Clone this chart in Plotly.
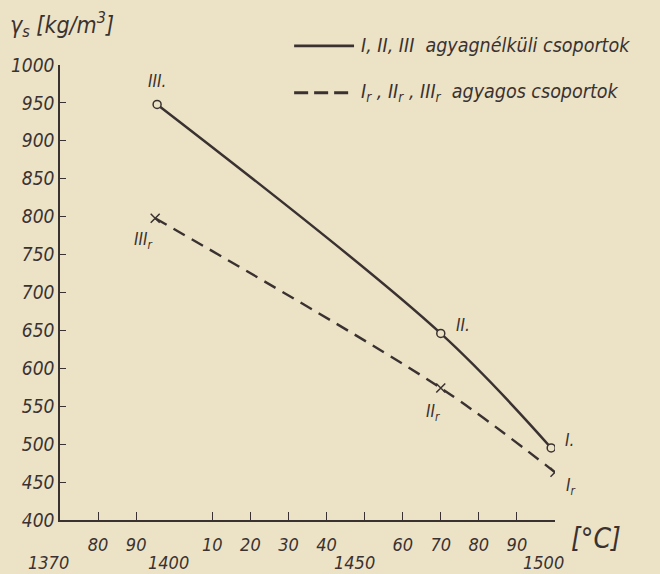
import plotly.graph_objects as go

# Data
temp_solid = [1395.5, 1470, 1499]
dens_solid = [948, 646, 495]
labels_solid = ["III.", "II.", "I."]

temp_dashed = [1395, 1470, 1500]
dens_dashed = [798, 574, 463]
labels_dashed = ["III<sub>r</sub>", "II<sub>r</sub>", "I<sub>r</sub>"]

x_tickvals = [1380, 1390, 1410, 1420, 1430, 1440, 1450, 1460, 1470, 1480, 1490, 1500]
x_ticktext = ["80", "90", "10", "20", "30", "40", "", "60", "70", "80", "90", ""]
x_major_vals = [1370, 1400, 1450, 1500]
x_major_text = ["1370", "1400", "1450", "1500"]
y_tickvals = [400, 450, 500, 550, 600, 650, 700, 750, 800, 850, 900, 950, 1000]

BG = "#ece2c6"
INK = "#3a3231"
FONT = "DejaVu Sans Condensed, Liberation Sans Narrow, Lato, sans-serif"

fig = go.Figure()

fig.add_trace(go.Scatter(
    x=temp_solid, y=dens_solid, mode="lines",
    line=dict(color=INK, width=2.5, shape="spline", smoothing=1.0),
    showlegend=False, hoverinfo="skip"))
fig.add_trace(go.Scatter(
    x=temp_solid, y=dens_solid, mode="markers",
    marker=dict(symbol="circle", size=8, color=BG, line=dict(color=INK, width=1.5)),
    showlegend=False))
fig.add_trace(go.Scatter(
    x=temp_dashed, y=dens_dashed, mode="lines",
    line=dict(color=INK, width=2.4, dash="13px,8px", shape="spline", smoothing=0.9),
    showlegend=False, hoverinfo="skip"))
fig.add_trace(go.Scatter(
    x=temp_dashed, y=dens_dashed, mode="markers",
    marker=dict(symbol="x-thin", size=9, color=INK, line=dict(color=INK, width=1.5)),
    showlegend=False))

# Point labels
offs_solid = [(0, 23), (22, 8), (18, 8)]
for x, y, t, (dx, dy) in zip(temp_solid, dens_solid, labels_solid, offs_solid):
    fig.add_annotation(x=x, y=y, text=t, showarrow=False, xshift=dx, yshift=dy,
                       font=dict(family=FONT, size=17, color=INK, style="italic"))
offs_dashed = [(-12, -22), (-8, -24), (16, -14)]
for x, y, t, (dx, dy) in zip(temp_dashed, dens_dashed, labels_dashed, offs_dashed):
    fig.add_annotation(x=x, y=y, text=t, showarrow=False, xshift=dx, yshift=dy,
                       font=dict(family=FONT, size=17, color=INK, style="italic"))

# Secondary (full year) x labels
major_shift = [-12, -6, -10, -12]
for v, t, s in zip(x_major_vals, x_major_text, major_shift):
    fig.add_annotation(x=v, y=0, yref="paper", text=t, showarrow=False,
                       yanchor="top", yshift=-30, xshift=s,
                       font=dict(family=FONT, size=18, color=INK, style="italic"))

# Unit label
fig.add_annotation(x=1, xref="paper", y=0, yref="paper", text="[°C]", showarrow=False,
                   xanchor="left", yanchor="top", xshift=14, yshift=0,
                   font=dict(family=FONT, size=28, color=INK, style="italic"))
# Y label
fig.add_annotation(x=0, xref="paper", y=1, yref="paper",
                   text="γ<sub>s</sub> [kg/m<sup>3</sup>]", showarrow=False,
                   xanchor="left", yanchor="bottom", xshift=-52, yshift=22,
                   font=dict(family=FONT, size=23, color=INK, style="italic"))

# Manual legend
fig.add_shape(type="line", xref="paper", yref="paper", x0=0.473, x1=0.594, y0=1.042, y1=1.042,
              line=dict(color=INK, width=2.8))
fig.add_shape(type="line", xref="paper", yref="paper", x0=0.473, x1=0.594, y0=0.939, y1=0.939,
              line=dict(color=INK, width=2.8, dash="14px,6px"))
fig.add_annotation(x=0.605, xref="paper", y=1.042, yref="paper",
                   text="I, II, III  agyagnélküli csoportok", showarrow=False,
                   xanchor="left", yanchor="middle",
                   font=dict(family=FONT, size=19.5, color=INK, style="italic"))
fig.add_annotation(x=0.605, xref="paper", y=0.939, yref="paper",
                   text="I<sub>r</sub> , II<sub>r</sub> , III<sub>r</sub>  agyagos csoportok",
                   showarrow=False, xanchor="left", yanchor="middle",
                   font=dict(family=FONT, size=19.5, color=INK, style="italic"))

fig.update_layout(
    width=660, height=574,
    paper_bgcolor=BG, plot_bgcolor=BG,
    margin=dict(l=60, r=105, t=65, b=54),
    font=dict(family=FONT, color=INK, size=18, style="italic"),
    showlegend=False,
    xaxis=dict(range=[1370, 1500], tickvals=x_tickvals, ticktext=x_ticktext,
               ticks="inside", ticklen=8, tickwidth=1.3, tickcolor=INK,
               ticklabelstandoff=8,
               showline=True, linecolor=INK, linewidth=1.6, showgrid=False, zeroline=False,
               tickfont=dict(family=FONT, size=18, color=INK, style="italic")),
    yaxis=dict(range=[400, 1000], tickvals=y_tickvals,
               ticks="inside", ticklen=6, tickwidth=1.3, tickcolor=INK,
               showline=True, linecolor=INK, linewidth=1.6, showgrid=False, zeroline=False,
               tickfont=dict(family=FONT, size=19, color=INK, style="italic")),
)

fig.write_html("out.html", config={"displayModeBar": False},
               post_script="document.body.style.margin='0';document.body.style.overflow='hidden';document.body.style.background='" + BG + "';")
